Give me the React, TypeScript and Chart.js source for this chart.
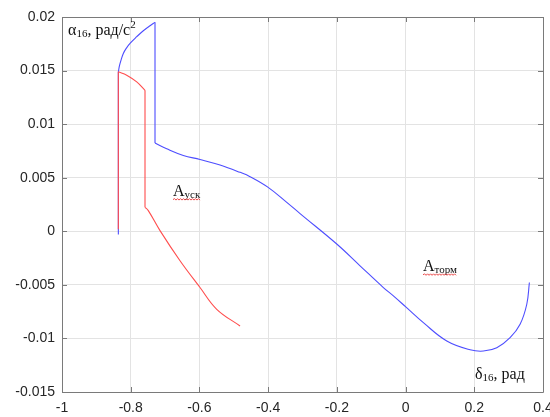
import React, { useEffect, useRef } from "react";
import { Chart, registerables } from "chart.js";

Chart.register(...registerables);

// Blue curve (braking phase)
const blueX = [
  -0.836, -0.836, -0.8325, -0.8275, -0.8215, -0.812, -0.802, -0.7825, -0.7633, -0.7438, -0.7293,
  -0.7293, -0.6952, -0.6469, -0.5983, -0.54, -0.4818, -0.4527, -0.4, -0.3458, -0.3071,
  -0.2003, -0.1325, -0.0646, -0.0355, 0.0006, 0.0518, 0.1199, 0.1878,
  0.2266, 0.2655, 0.3042, 0.3333, 0.3528, 0.3604,
];
const blueY = [
  -0.0003, 0.01488, 0.01548, 0.01605, 0.0166, 0.01712, 0.01754, 0.01816, 0.01872, 0.01919, 0.0195,
  0.00823, 0.0077, 0.00708, 0.0067, 0.00618, 0.0055, 0.0051, 0.0041, 0.0027, 0.00165,
  -0.00119, -0.00322, -0.00525, -0.00603, -0.00706, -0.00853, -0.01024, -0.01106,
  -0.01118, -0.01087, -0.00993, -0.00868, -0.00681, -0.00478,
];
// indices where the curve has sharp corners (straight jumps between them)
const blueCorners = [0, 1, 10, 11, 34];

// Red curve (acceleration phase)
const redX = [
  -0.836, -0.836, -0.8117, -0.7825, -0.7584, -0.7584, -0.7488, -0.7147, -0.6565,
  -0.5983, -0.5496, -0.4818,
];
const redY = [
  0.0002, 0.01488, 0.01457, 0.01394, 0.01316, 0.00224, 0.00193, 0.00006, -0.00275,
  -0.00525, -0.00728, -0.00884,
];
const redCorners = [0, 1, 4, 5, 11];

const xTicksMin = -1;
const xTicksMax = 0.4;
const xStep = 0.2;
const yTicksMin = -0.015;
const yTicksMax = 0.02;
const yStep = 0.005;

const FRAME = "#7a7a7a";
const GRID = "#e3e3e3";
const TEXT = "#262626";
const BLUE = "#4d4dff";
const RED = "#ff4d4d";

function fmt(v: number, d: number) {
  const r = Number(v.toFixed(d));
  return (Object.is(r, -0) ? 0 : r).toString();
}

function pieces(xs: number[], ys: number[], corners: number[], color: string, order: number) {
  const out: any[] = [];
  for (let k = 0; k < corners.length - 1; k++) {
    const a = corners[k];
    const b = corners[k + 1];
    const pts = [];
    for (let i = a; i <= b; i++) pts.push({ x: xs[i], y: ys[i] });
    out.push({
      data: pts,
      showLine: true,
      borderColor: color,
      borderWidth: 1.1,
      pointRadius: 0,
      tension: b - a > 1 ? 0.4 : 0,
      order,
    });
  }
  return out;
}

const framePlugin = {
  id: "frame",
  afterDraw(chart: any) {
    const { ctx, chartArea: a, scales } = chart;
    const xs = scales.x;
    const ys = scales.y;
    ctx.save();
    ctx.strokeStyle = FRAME;
    ctx.lineWidth = 1;
    ctx.beginPath();
    ctx.rect(Math.round(a.left) + 0.5, Math.round(a.top) + 0.5, Math.round(a.right - a.left), Math.round(a.bottom - a.top));
    ctx.stroke();
    const tl = 5;
    ctx.beginPath();
    xs.ticks.forEach((t: any) => {
      const px = Math.round(xs.getPixelForValue(t.value)) + 0.5;
      ctx.moveTo(px, a.bottom);
      ctx.lineTo(px, a.bottom - tl);
      ctx.moveTo(px, a.top);
      ctx.lineTo(px, a.top + tl);
    });
    ys.ticks.forEach((t: any) => {
      const py = Math.round(ys.getPixelForValue(t.value)) + 0.5;
      ctx.moveTo(a.left, py);
      ctx.lineTo(a.left + tl, py);
      ctx.moveTo(a.right, py);
      ctx.lineTo(a.right - tl, py);
    });
    ctx.stroke();
    ctx.restore();
  },
};

function drawWavy(ctx: CanvasRenderingContext2D, x0: number, x1: number, y: number) {
  ctx.save();
  ctx.strokeStyle = "rgba(230,40,40,0.85)";
  ctx.lineWidth = 1;
  ctx.beginPath();
  let up = true;
  ctx.moveTo(x0, y);
  for (let x = x0 + 1.5; x <= x1; x += 1.5) {
    ctx.lineTo(x, up ? y - 1 : y + 0.5);
    up = !up;
  }
  ctx.stroke();
  ctx.restore();
}

const labelPlugin = {
  id: "labels",
  afterDraw(chart: any) {
    const { ctx, scales } = chart;
    const X = (v: number) => scales.x.getPixelForValue(v);
    const Y = (v: number) => scales.y.getPixelForValue(v);
    const serif = "'Liberation Serif', 'Times New Roman', serif";
    ctx.save();
    ctx.fillStyle = "#111";
    ctx.textBaseline = "alphabetic";
    ctx.textAlign = "left";

    const drawSub = (x: number, y: number, main: string, sub: string, rest: string, sup: string, underline: boolean) => {
      ctx.font = `16px ${serif}`;
      ctx.fillText(main, x, y);
      let cx = x + ctx.measureText(main).width;
      ctx.font = `11px ${serif}`;
      ctx.fillText(sub, cx, y + 2);
      cx += ctx.measureText(sub).width;
      if (rest) {
        ctx.font = `16px ${serif}`;
        ctx.fillText(rest, cx, y);
        cx += ctx.measureText(rest).width;
      }
      if (sup) {
        ctx.font = `11px ${serif}`;
        ctx.fillText(sup, cx, y - 7);
        cx += ctx.measureText(sup).width;
      }
      if (underline) drawWavy(ctx, x, cx, y + 4);
    };

    drawSub(X(-0.9825), Y(0.01831), "α", "16", ", рад/с", "2", false);
    drawSub(X(-0.6769), Y(0.00333), "А", "уск", "", "", true);
    drawSub(X(0.0509), Y(-0.00369), "А", "торм", "", "", true);
    drawSub(X(0.2023), Y(-0.0138), "δ", "16", ", рад", "", false);
    ctx.restore();
  },
};

export default function App() {
  const ref = useRef<HTMLCanvasElement | null>(null);
  useEffect(() => {
    if (!ref.current) return;
    const chart = new Chart(ref.current, {
      type: "scatter",
      data: {
        datasets: [
          ...pieces(redX, redY, redCorners, RED, 0),
          ...pieces(blueX, blueY, blueCorners, BLUE, 1),
        ],
      },
      options: {
        responsive: false,
        animation: false,
        layout: { padding: { left: 0, top: 17, right: 7, bottom: 0 } },
        plugins: { legend: { display: false }, tooltip: { enabled: false } },
        scales: {
          x: {
            type: "linear",
            min: xTicksMin,
            max: xTicksMax,
            border: { display: false },
            grid: { color: GRID, drawTicks: false, tickLength: 0 },
            ticks: {
              stepSize: xStep,
              padding: 8,
              color: TEXT,
              font: { family: "'Liberation Sans', Arial, sans-serif", size: 14 },
              maxRotation: 0,
              autoSkip: false,
              callback: (v: any) => fmt(Number(v), 2),
            },
            afterFit: (s: any) => {
              s.height = 25;
              s.paddingLeft = 0;
              s.paddingRight = 0;
            },
          },
          y: {
            type: "linear",
            min: yTicksMin,
            max: yTicksMax,
            border: { display: false },
            grid: { color: GRID, drawTicks: false, tickLength: 0 },
            ticks: {
              stepSize: yStep,
              padding: 7,
              color: TEXT,
              font: { family: "'Liberation Sans', Arial, sans-serif", size: 14 },
              autoSkip: false,
              callback: (v: any) => fmt(Number(v), 3),
            },
            afterFit: (s: any) => {
              s.width = 62;
              s.paddingTop = 0;
              s.paddingBottom = 0;
            },
          },
        },
      },
      plugins: [framePlugin, labelPlugin],
    });
    return () => chart.destroy();
  }, []);
  return (
    <div style={{ position: "absolute", left: 0, top: 0, width: 550, height: 417, background: "#fff" }}>
      <canvas ref={ref} width={550} height={417} style={{ display: "block" }} />
    </div>
  );
}
